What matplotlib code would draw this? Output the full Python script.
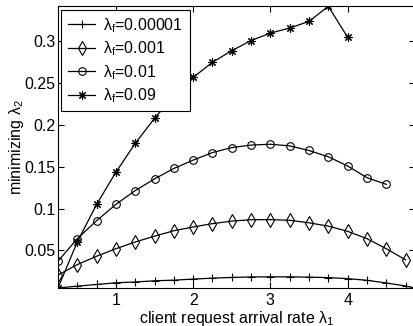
import numpy as np
import matplotlib
matplotlib.use('Agg')
import matplotlib.pyplot as plt

plt.rcParams['font.family'] = ['Liberation Sans', 'DejaVu Sans']
plt.rcParams['mathtext.fontset'] = 'custom'
plt.rcParams['mathtext.rm'] = 'Liberation Sans'
plt.rcParams['mathtext.it'] = 'Liberation Sans'

# arrival rate lambda_1 (step 0.25)
lam1 = [0.25, 0.5, 0.75, 1.0, 1.25, 1.5, 1.75, 2.0, 2.25, 2.5, 2.75, 3.0,
        3.25, 3.5, 3.75, 4.0, 4.25, 4.5, 4.75]

# lambda_f = 0.00001 (last point has no marker)
x_a = lam1 + [4.87]
y_a = [0.005, 0.0072, 0.0092, 0.0112, 0.0122, 0.0136, 0.0144, 0.0156, 0.0168,
       0.0176, 0.0182, 0.0184, 0.0183, 0.0180, 0.0174, 0.0162, 0.0142, 0.0110,
       0.0074, 0.005]
# lambda_f = 0.001
y_b = [0.0204, 0.033, 0.043, 0.052, 0.060, 0.067, 0.0735, 0.078, 0.082, 0.085,
       0.0867, 0.0868, 0.086, 0.083, 0.079, 0.0728, 0.064, 0.052, 0.0387]
# lambda_f = 0.01
x_c = lam1[:18]
y_c = [0.037, 0.064, 0.0855, 0.105, 0.1215, 0.1355, 0.148, 0.158, 0.167, 0.173,
       0.176, 0.177, 0.175, 0.1695, 0.162, 0.151, 0.137, 0.129]
# lambda_f = 0.09
x_d = lam1[:16]
y_d = [0.005, 0.060, 0.105, 0.1435, 0.178, 0.208, 0.235, 0.257, 0.275, 0.289,
       0.301, 0.310, 0.316, 0.324, 0.342, 0.305]

labels = ['$\\lambda_\\mathrm{f}$=0.00001', '$\\lambda_\\mathrm{f}$=0.001',
          '$\\lambda_\\mathrm{f}$=0.01', '$\\lambda_\\mathrm{f}$=0.09']

fs = 11.5
fig = plt.figure(figsize=(4.14, 3.26), dpi=100)
ax = fig.add_axes([0.140, 0.1166, 0.862, 0.864])

lw = 0.9
ax.plot(x_a, y_a, 'k-', marker='+', ms=6, mew=0.8, lw=lw,
        markevery=list(range(len(lam1))), label=labels[0])
ax.plot(lam1, y_b, 'k-', marker='d', ms=7, mfc='none', mew=0.8, lw=lw, label=labels[1])
ax.plot(x_c, y_c, 'k-', marker='o', ms=5.5, mfc='none', mew=0.8, lw=lw, label=labels[2])
ax.plot(x_d, y_d, 'k-', marker=(8, 2, 0), ms=6, mew=0.8, lw=lw, label=labels[3])

ax.set_xlim(0.25, 4.87)
ax.set_ylim(0.005, 0.342)
ax.set_xticks([1, 2, 3, 4])
ax.set_yticks([0.05, 0.1, 0.15, 0.2, 0.25, 0.3])
ax.set_yticklabels(['0.05', '0.1', '0.15', '0.2', '0.25', '0.3'])
ax.tick_params(direction='in', top=True, right=True, labelsize=fs, length=4, pad=2)
ax.tick_params(axis='x', pad=3.5)
for s in ax.spines.values():
    s.set_linewidth(0.8)

ax.set_xlabel('client request arrival rate $\\lambda_1$', fontsize=fs, labelpad=0.5)
ax.set_ylabel('minimizing $\\lambda_2$', fontsize=fs, labelpad=-1.5)

leg = ax.legend(loc='upper left', fontsize=fs, frameon=True, fancybox=False,
                edgecolor='black', framealpha=1, handlelength=1.75,
                borderaxespad=0.2, labelspacing=0.3, handletextpad=0.5,
                borderpad=0.4)
leg.get_frame().set_linewidth(0.8)

fig.savefig('out.png', dpi=100)
